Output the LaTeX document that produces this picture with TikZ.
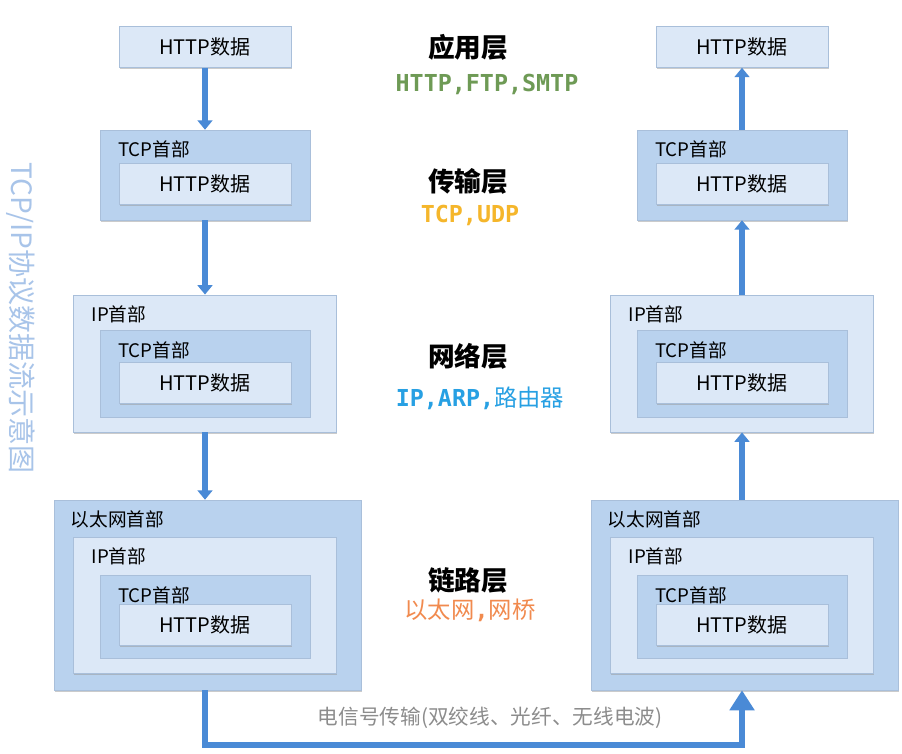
\documentclass[tikz,border=0pt]{standalone}
\usepackage{fontspec}
\setmainfont{Noto Sans CJK SC}
\newfontfamily\monofont{DejaVu Sans Mono}
\usepackage{xcolor}
\usetikzlibrary{arrows.meta,shadows}

\definecolor{boxdark}{HTML}{B9D2EE}
\definecolor{boxlight}{HTML}{DCE8F7}
\definecolor{boxedge}{HTML}{A9BFDA}
\definecolor{flowblue}{HTML}{4A8AD6}
\definecolor{appgreen}{HTML}{6E9A55}
\definecolor{tcpyellow}{HTML}{F5B62B}
\definecolor{ipblue}{HTML}{27A0E3}
\definecolor{linkorange}{HTML}{F18A4E}
\definecolor{sidetext}{HTML}{A8C4E9}
\definecolor{wiretext}{HTML}{8C8C8C}

\begin{document}
\begin{tikzpicture}[x=0.75pt,y=-0.75pt,
    dark/.style={rectangle, fill=boxdark, draw=boxedge, line width=0.4pt, inner sep=0pt,
      drop shadow={shadow xshift=0.6pt, shadow yshift=-1.2pt, fill=black!40, opacity=0.5}},
    light/.style={dark, fill=boxlight},
    data/.style={light, minimum width=129pt, minimum height=30.75pt, font=\fontsize{15}{17}\selectfont},
    hdr/.style={anchor=west, inner sep=0pt, font=\fontsize{14}{16}\selectfont},
    layer/.style={font=\fontsize{20}{24}\selectfont\bfseries},
    proto/.style={font=\fontsize{17.5}{20}\selectfont},
    flow/.style={draw=flowblue, line width=4.5pt, -{Triangle[width=11pt,length=7pt]}}]
    \fill[white] (0,0) rectangle (902,753);
    \useasboundingbox (0,0) rectangle (902,753);

    % Sender side (left)
    \node[data] (http1L) at (205,47) {HTTP数据};
    % transport
    \node[dark, minimum width=157.5pt, minimum height=67.5pt] (tcp2L) at (205,175) {};
    \node[hdr] (tcph2L) at ([xshift=13.5pt,yshift=-15pt]tcp2L.north west) {TCP首部};
    \node[data] (http2L) at (205,184) {HTTP数据};
    % network
    \node[light, minimum width=197pt, minimum height=103pt] (ip3L) at (205,363.5) {};
    \node[hdr] (iph3L) at ([xshift=13.5pt,yshift=-15pt]ip3L.north west) {IP首部};
    \node[dark, minimum width=157.5pt, minimum height=65pt] (tcp3L) at (205,373.5) {};
    \node[hdr] (tcph3L) at ([xshift=13.5pt,yshift=-15pt]tcp3L.north west) {TCP首部};
    \node[data] (http3L) at (205,382.5) {HTTP数据};
    % link
    \node[dark, minimum width=230pt, minimum height=142.5pt] (eth4L) at (208,595) {};
    \node[hdr] (ethh4L) at ([xshift=12pt,yshift=-15pt]eth4L.north west) {以太网首部};
    \node[light, minimum width=197pt, minimum height=102pt] (ip4L) at (205,605) {};
    \node[hdr] (iph4L) at ([xshift=13.5pt,yshift=-15pt]ip4L.north west) {IP首部};
    \node[dark, minimum width=157.5pt, minimum height=62pt] (tcp4L) at (205,616.5) {};
    \node[hdr] (tcph4L) at ([xshift=13.5pt,yshift=-15pt]tcp4L.north west) {TCP首部};
    \node[data] (http4L) at (205,624.5) {HTTP数据};

    % Receiver side (right)
    \node[data] (http1R) at (742,47) {HTTP数据};
    % transport
    \node[dark, minimum width=157.5pt, minimum height=67.5pt] (tcp2R) at (742,175) {};
    \node[hdr] (tcph2R) at ([xshift=13.5pt,yshift=-15pt]tcp2R.north west) {TCP首部};
    \node[data] (http2R) at (742,184) {HTTP数据};
    % network
    \node[light, minimum width=197pt, minimum height=103pt] (ip3R) at (742,363.5) {};
    \node[hdr] (iph3R) at ([xshift=13.5pt,yshift=-15pt]ip3R.north west) {IP首部};
    \node[dark, minimum width=157.5pt, minimum height=65pt] (tcp3R) at (742,373.5) {};
    \node[hdr] (tcph3R) at ([xshift=13.5pt,yshift=-15pt]tcp3R.north west) {TCP首部};
    \node[data] (http3R) at (742,382.5) {HTTP数据};
    % link
    \node[dark, minimum width=230pt, minimum height=142.5pt] (eth4R) at (745,595) {};
    \node[hdr] (ethh4R) at ([xshift=12pt,yshift=-15pt]eth4R.north west) {以太网首部};
    \node[light, minimum width=197pt, minimum height=102pt] (ip4R) at (742,605) {};
    \node[hdr] (iph4R) at ([xshift=13.5pt,yshift=-15pt]ip4R.north west) {IP首部};
    \node[dark, minimum width=157.5pt, minimum height=62pt] (tcp4R) at (742,616.5) {};
    \node[hdr] (tcph4R) at ([xshift=13.5pt,yshift=-15pt]tcp4R.north west) {TCP首部};
    \node[data] (http4R) at (742,624.5) {HTTP数据};

    % Layer names
    \node[layer] (appname) at (468,47) {应用层};
    \node[proto, text=appgreen] (appproto) at (487,84) {\monofont\bfseries HTTP,FTP,SMTP};
    \node[layer] (tcpname) at (468,181) {传输层};
    \node[proto, text=tcpyellow] (tcpproto) at (470,215) {\monofont\bfseries TCP,UDP};
    \node[layer] (ipname) at (468,356) {网络层};
    \node[proto, text=ipblue] (ipproto) at (480,398) {{\monofont\bfseries IP,ARP,}路由器};
    \node[layer] (linkname) at (468,580) {链路层};
    \node[proto, text=linkorange] (linkproto) at (470,610) {以太网{\monofont\bfseries ,}网桥};

    % Side title
    \node[rotate=-90, text=sidetext, font=\fontsize{21}{24}\selectfont] (side) at (21,318) {TCP/IP协议数据流示意图};

    % Flow down on the left
    \draw[flow] (http1L.south) -- (tcp2L.north);
    \draw[flow] (tcp2L.south) -- (ip3L.north);
    \draw[flow] (ip3L.south) -- (ip3L.south |- eth4L.north);
    % Wire
    \coordinate (wireturn) at (742,745);
    \draw[flow, -{Triangle[width=18pt,length=15pt]}] (ip4L.south |- eth4L.south) |- (wireturn) -- (ip4R.south |- eth4R.south);
    \node[text=wiretext, font=\fontsize{15.5}{18}\selectfont] (wire) at (490,718) {电信号传输(双绞线、光纤、无线电波)};
    % Flow up on the right
    \draw[flow] (ip3R.south |- eth4R.north) -- (ip3R.south);
    \draw[flow] (ip3R.north) -- (tcp2R.south);
    \draw[flow] (tcp2R.north) -- (http1R.south);
\end{tikzpicture}
\end{document}
